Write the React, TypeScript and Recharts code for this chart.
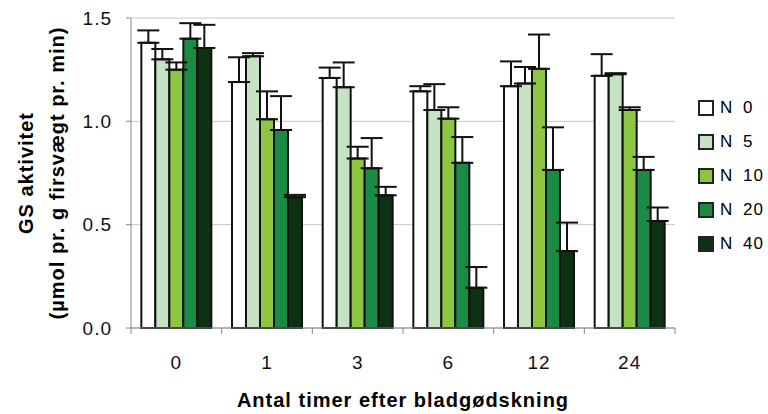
import {
  BarChart,
  Bar,
  XAxis,
  YAxis,
  CartesianGrid,
  ErrorBar,
  Legend,
  Label,
} from 'recharts';

const hours = ['0', '1', '3', '6', '12', '24'];

const n0 = [1.38, 1.19, 1.21, 1.145, 1.17, 1.22];
const n0Err = [0.06, 0.12, 0.05, 0.025, 0.12, 0.105];
const n5 = [1.3, 1.315, 1.165, 1.055, 1.183, 1.228];
const n5Err = [0.05, 0.015, 0.12, 0.125, 0.08, 0.005];
const n10 = [1.25, 1.01, 0.82, 1.013, 1.254, 1.055];
const n10Err = [0.035, 0.135, 0.057, 0.055, 0.166, 0.013];
const n20 = [1.4, 0.958, 0.773, 0.799, 0.765, 0.765];
const n20Err = [0.075, 0.164, 0.146, 0.125, 0.206, 0.063];
const n40 = [1.355, 0.633, 0.642, 0.195, 0.372, 0.518];
const n40Err = [0.112, 0.011, 0.041, 0.1, 0.138, 0.065];

const yTicks = [0, 0.5, 1.0, 1.5];

const series = [
  { key: 'n0', name: 'N 0', color: '#ffffff', values: n0, errors: n0Err },
  { key: 'n5', name: 'N 5', color: '#c5e3c3', values: n5, errors: n5Err },
  { key: 'n10', name: 'N 10', color: '#8dc643', values: n10, errors: n10Err },
  { key: 'n20', name: 'N 20', color: '#1a8a45', values: n20, errors: n20Err },
  { key: 'n40', name: 'N 40', color: '#0e3113', values: n40, errors: n40Err },
];

const data = hours.map((hour, i) => {
  const row: Record<string, unknown> = { hour };
  series.forEach((s) => {
    row[s.key] = s.values[i];
    row[`${s.key}Err`] = [0, s.errors[i]];
  });
  return row;
});

const FONT = '"Liberation Sans", Arial, sans-serif';
const AXIS_GREY = '#868686';
const MARGIN = { top: 18, right: 93, left: 0, bottom: 0 };
const Y_AXIS_W = 131;
const PLOT_W = 768 - Y_AXIS_W - MARGIN.right;

interface TickProps {
  x?: number;
  y?: number;
  index?: number;
  payload?: { value: string };
}

// category label plus the small tick marks on the group boundaries
function HourTick({ x = 0, y = 0, index = 0, payload }: TickProps) {
  const band = PLOT_W / hours.length;
  const left = x - band / 2;
  const right = x + band / 2;
  return (
    <g>
      <line x1={left} y1={y} x2={left} y2={y + 6} stroke={AXIS_GREY} />
      {index === hours.length - 1 && (
        <line x1={right} y1={y} x2={right} y2={y + 6} stroke={AXIS_GREY} />
      )}
      <text
        x={x}
        y={y + 41}
        textAnchor="middle"
        fill="#111"
        fontSize={19}
        fontFamily={FONT}
        letterSpacing={1}
      >
        {payload?.value}
      </text>
    </g>
  );
}

function YTitle({ viewBox }: { viewBox?: { x: number; y: number; width: number; height: number } }) {
  if (!viewBox) return null;
  const cy = viewBox.y + viewBox.height / 2;
  return (
    <g fontFamily={FONT} fontWeight="bold" fontSize={20} fill="#000" letterSpacing={1}>
      <text x={33} y={cy} textAnchor="middle" transform={`rotate(-90, 33, ${cy})`}>
        GS aktivitet
      </text>
      <text x={64} y={cy} textAnchor="middle" transform={`rotate(-90, 64, ${cy})`}>
        (µmol pr. g firsvægt pr. min)
      </text>
    </g>
  );
}

function LegendBox() {
  return (
    <div style={{ fontFamily: FONT, fontSize: 17, color: '#000', letterSpacing: 1, wordSpacing: 4 }}>
      {series.map((s) => (
        <div key={s.key} style={{ display: 'flex', alignItems: 'center', height: 34 }}>
          <span
            style={{
              width: 12,
              height: 12,
              backgroundColor: s.color,
              border: '2px solid #222',
              marginRight: 6,
              display: 'inline-block',
            }}
          />
          <span>{s.name}</span>
        </div>
      ))}
    </div>
  );
}

export default function App() {
  return (
    <div style={{ position: 'absolute', left: 0, top: 0, width: 768, height: 414, background: '#fff' }}>
      <BarChart
        width={768}
        height={414}
        data={data}
        margin={MARGIN}
        barCategoryGap="11.4%"
        barGap={0}
      >
        <CartesianGrid horizontal vertical={false} stroke="#c8c8c8" />
        <XAxis
          dataKey="hour"
          height={86}
          axisLine={{ stroke: AXIS_GREY }}
          tickLine={false}
          tickSize={0}
          tickMargin={0}
          tick={<HourTick />}
          interval={0}
        >
          <Label
            value="Antal timer efter bladgødskning"
            position="insideBottom"
            offset={7}
            style={{ fontFamily: FONT, fontSize: 20, fontWeight: 'bold', fill: '#000', letterSpacing: 1 }}
          />
        </XAxis>
        <YAxis
          width={Y_AXIS_W}
          domain={[0, 1.5]}
          ticks={yTicks}
          tickFormatter={(v: number) => v.toFixed(1)}
          tickSize={5}
          tickMargin={14}
          axisLine={{ stroke: AXIS_GREY }}
          tickLine={{ stroke: AXIS_GREY }}
          tick={{ fill: '#111', fontSize: 19, fontFamily: FONT, letterSpacing: 1 }}
          label={<YTitle />}
        />
        <YAxis
          yAxisId="r"
          orientation="right"
          width={0}
          domain={[0, 1.5]}
          tick={false}
          tickLine={false}
          axisLine={{ stroke: AXIS_GREY }}
        />
        <Legend
          layout="vertical"
          align="center"
          verticalAlign="middle"
          wrapperStyle={{ left: 698, top: 91, width: 70 }}
          content={<LegendBox />}
        />
        {series.map((s) => (
          <Bar
            key={s.key}
            dataKey={s.key}
            name={s.name}
            fill={s.color}
            stroke="#111"
            strokeWidth={2}
            isAnimationActive={false}
          >
            <ErrorBar dataKey={`${s.key}Err`} width={11} stroke="#111" strokeWidth={2} />
          </Bar>
        ))}
      </BarChart>
    </div>
  );
}
